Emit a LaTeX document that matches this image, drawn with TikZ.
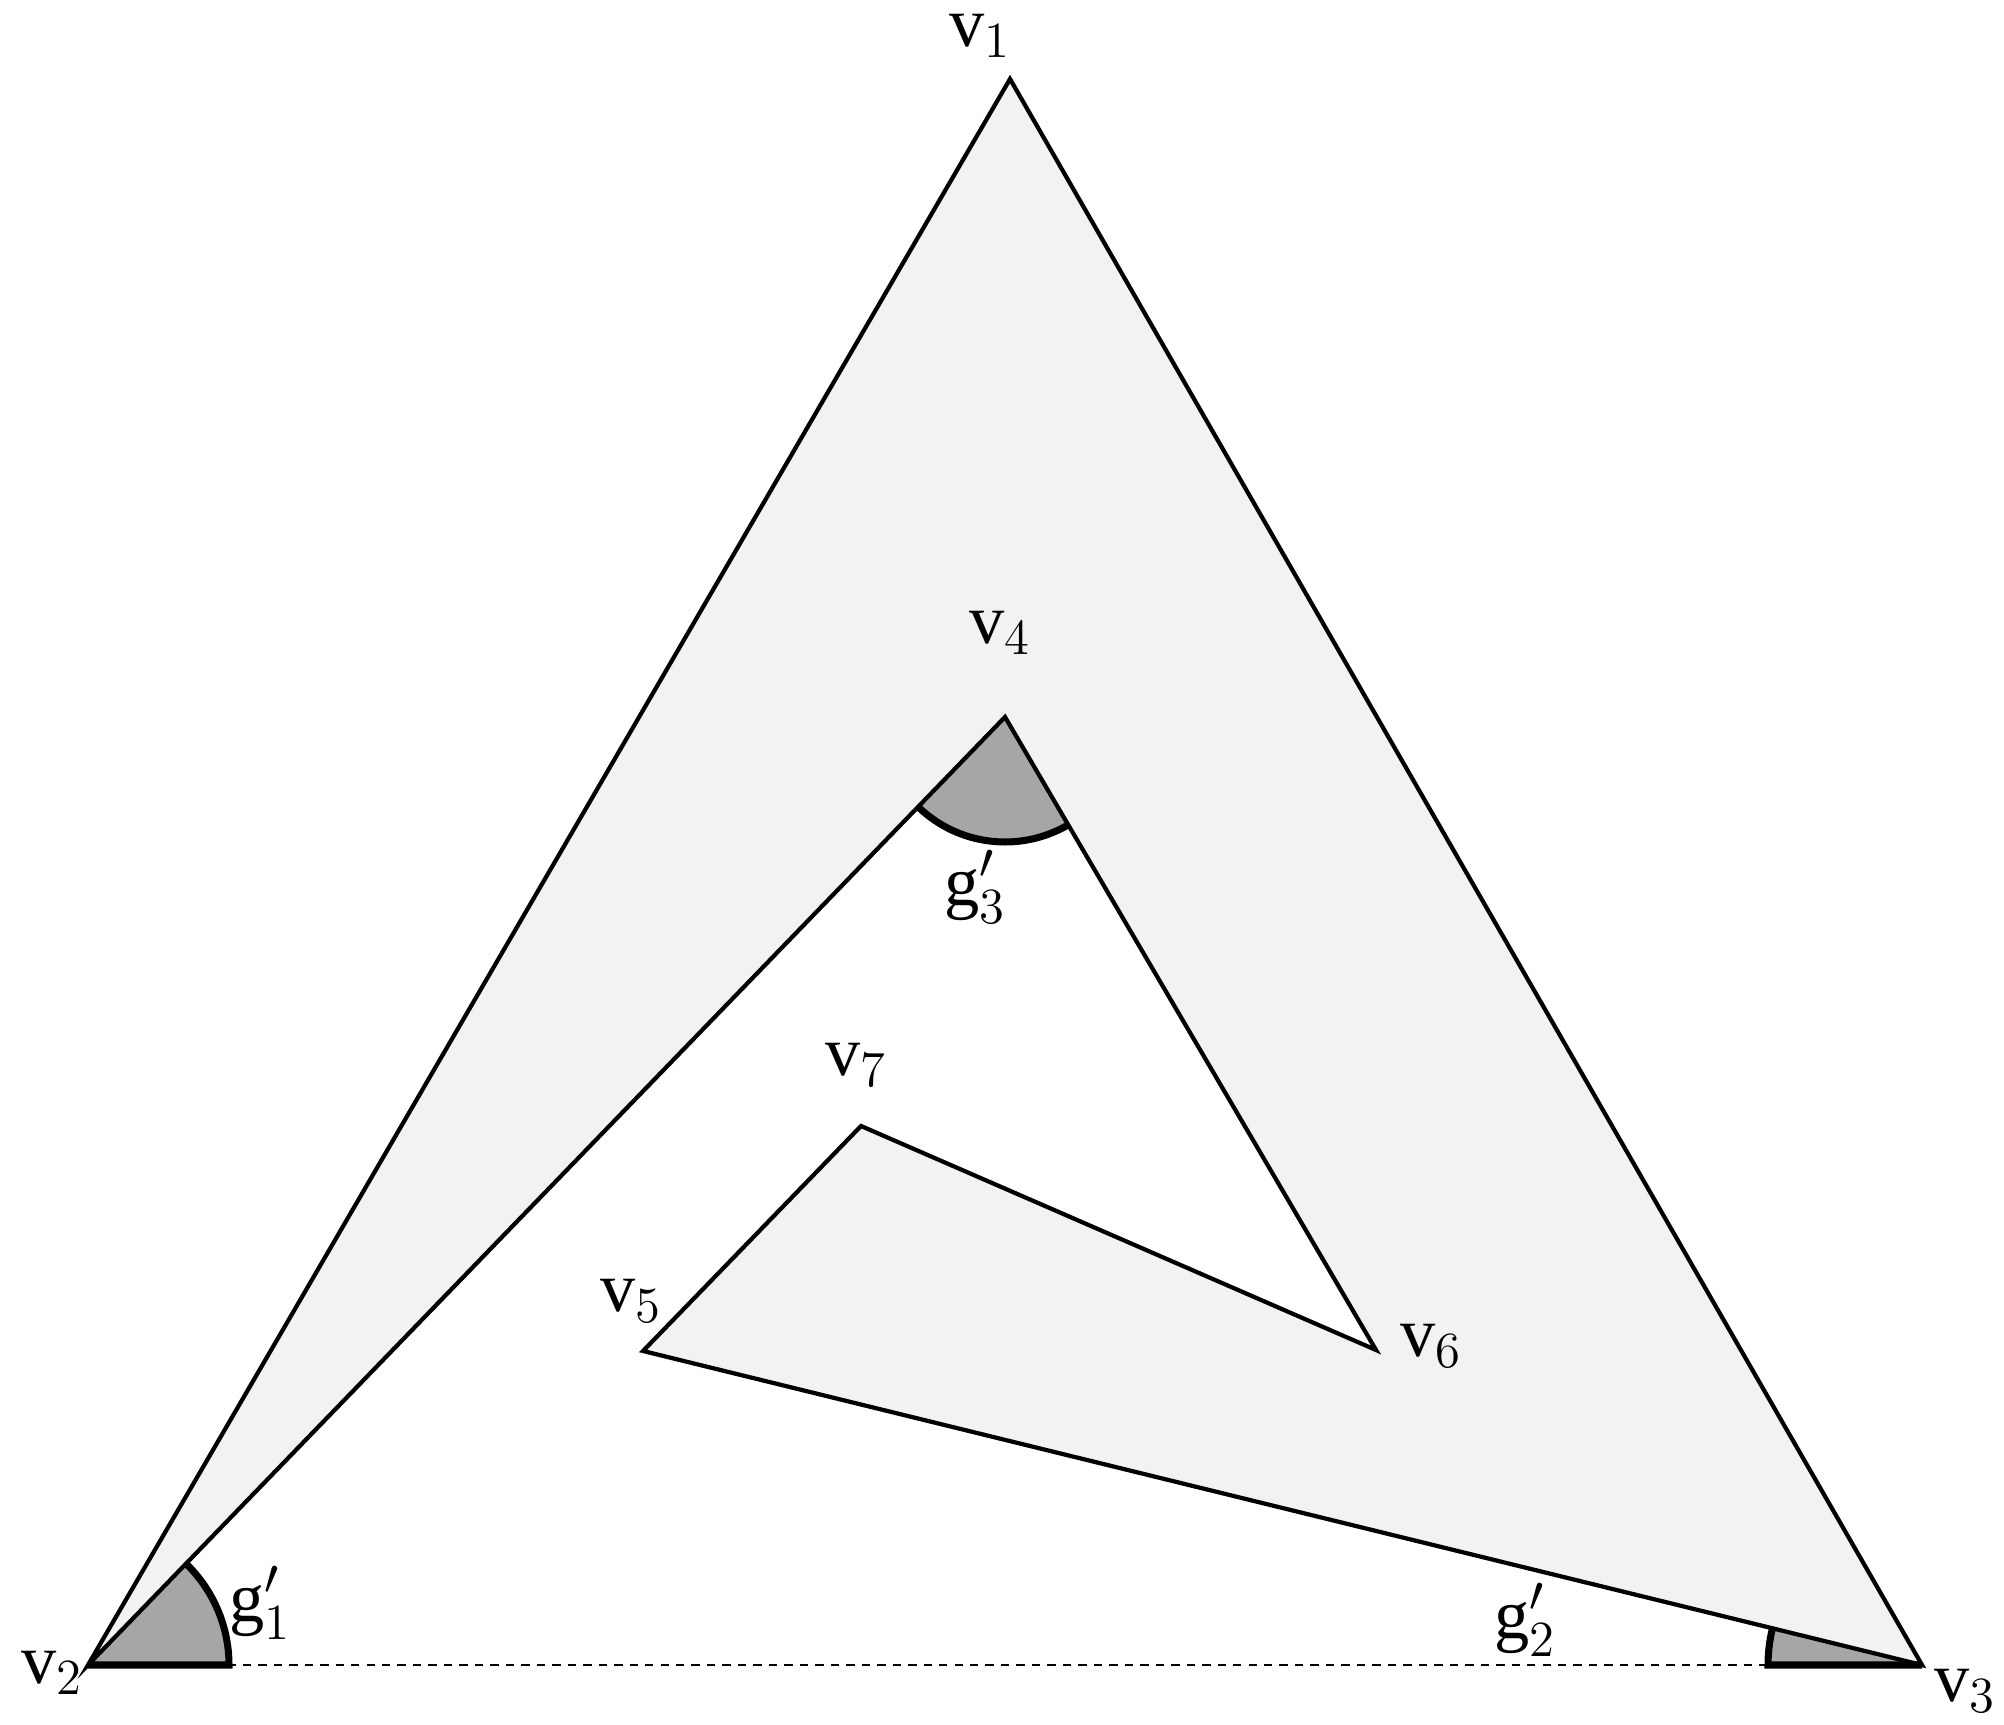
\documentclass[tikz,border=0pt]{standalone}
\usepackage{fontspec}
\setmainfont{Liberation Serif}
\usepackage{tikz}
\definecolor{shapegray}{HTML}{F2F2F2}
\definecolor{anglegray}{HTML}{A6A6A6}
\def\gfill{\fill[anglegray]}
\def\garc{\draw[line width=2pt]}

\begin{document}
\begin{tikzpicture}[x=0.01cm,y=0.01cm,
        edge/.style={line width=1.2pt,line join=miter},
        lbl/.style={font=\fontsize{20}{24}\selectfont,inner sep=0pt}]
                \useasboundingbox (0,0) rectangle (2004,1724);
                \coordinate (v1) at (1010,1645);
                \coordinate (v2) at (  88,  59);
                \coordinate (v3) at (1922,  59);
                \coordinate (v4) at (1005,1007);
                \coordinate (v5) at ( 643, 373);
                \coordinate (v6) at (1376, 374);
                \coordinate (v7) at ( 861, 598);
                \fill[shapegray] (v1) -- (v2) -- (v4) -- (v6) -- (v7) -- (v5) -- (v3) -- cycle;
                \draw[line width=0.45pt,dash pattern=on 2.4pt off 2pt] (v2) -- (v3);
                % angles
                \gfill (v2) -- ++(0:141) arc[start angle=0,end angle=45.97,radius=141] -- cycle;
                \gfill (v3) -- ++(166.2:154) arc[start angle=166.2,end angle=180,radius=154] -- cycle;
                \gfill (v4) -- ++(225.97:125) arc[start angle=225.97,end angle=300.35,radius=125] -- cycle;
                \draw[edge] (v1) -- (v2) -- (v4) -- (v6) -- (v7) -- (v5) -- (v3) -- cycle;
                \garc (v2) ++(45.97:141) arc[start angle=45.97,end angle=0,radius=141] -- (v2);
                \garc (v3) ++(166.2:154) arc[start angle=166.2,end angle=180,radius=154] -- (v3);
                \garc (v4) ++(225.97:125) arc[start angle=225.97,end angle=300.35,radius=125];
                % labels
                \node[lbl] (lv1) at ( 980,1688) {$\mathrm{v}_1$};
                \node[lbl] (lv2) at (  52,  51) {$\mathrm{v}_2$};
                \node[lbl] (lv3) at (1965,  33) {$\mathrm{v}_3$};
                \node[lbl] (lv4) at (1000,1091) {$\mathrm{v}_4$};
                \node[lbl] (lv5) at ( 631, 423) {$\mathrm{v}_5$};
                \node[lbl] (lv6) at (1431, 378) {$\mathrm{v}_6$};
                \node[lbl] (lv7) at ( 856, 659) {$\mathrm{v}_7$};
                \node[lbl] (lg1) at ( 260, 121) {$\mathrm{g}'_1$};
                \node[lbl] (lg2) at (1525, 104) {$\mathrm{g}'_2$};
                \node[lbl] (lg3) at ( 975, 837) {$\mathrm{g}'_3$};
            \end{tikzpicture}
\end{document}
